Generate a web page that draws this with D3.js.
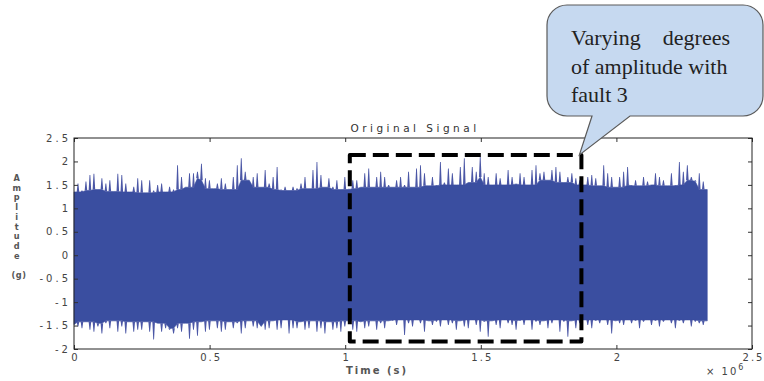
<!DOCTYPE html>
<html><head><meta charset="utf-8">
<script src="https://cdn.jsdelivr.net/npm/d3@7"></script>
<style>body{margin:0;background:#fff} svg{display:block}</style>
</head><body><svg id="c" width="764" height="381"></svg>
<script>
// ---- data ----
const signalLength = 2.335e6;          // last sample index (x axis, ×10^6)
// upper / lower envelope of the signal, 160 evenly spaced readings
const upper = [
1.35,1.53,1.38,1.57,1.71,1.74,1.40,1.64,1.53,1.60,
1.36,1.74,1.71,1.53,1.35,1.46,1.64,1.60,1.33,1.60,
1.38,1.50,1.53,1.35,1.46,1.40,1.92,1.67,1.45,1.75,
1.75,1.78,1.95,1.64,1.60,1.42,1.53,1.64,1.53,1.40,
1.67,1.92,2.07,1.78,1.60,1.67,1.75,1.45,1.82,1.53,
1.67,1.88,1.40,1.46,1.38,1.46,1.43,1.53,1.67,1.42,
1.82,1.99,1.71,1.45,1.64,1.46,1.60,1.40,1.67,1.42,
1.60,1.60,1.45,1.75,1.85,1.45,1.67,1.78,1.67,1.50,
1.45,1.60,1.67,1.50,1.78,1.45,1.85,1.92,1.75,1.48,
1.67,1.50,1.99,1.55,1.85,1.75,1.50,1.88,2.07,1.55,
1.88,1.78,2.10,1.75,1.67,1.50,1.75,1.64,1.50,1.82,
1.67,1.52,1.75,1.67,1.50,1.82,1.92,1.75,1.78,1.60,
1.82,1.88,1.78,1.55,1.67,1.75,1.64,1.60,1.50,1.67,
1.71,1.64,1.48,1.92,1.75,1.67,1.45,1.67,1.78,1.88,
1.50,1.60,1.48,1.67,1.57,1.50,1.75,1.67,1.60,1.48,
1.75,1.50,1.99,1.78,1.92,1.67,1.60,1.75,1.57,1.40];
const lower = [
-1.48,-1.52,-1.56,-1.42,-1.59,-1.63,-1.52,-1.67,-1.45,-1.56,
-1.40,-1.63,-1.52,-1.67,-1.42,-1.63,-1.59,-1.59,-1.42,-1.63,
-1.80,-1.45,-1.63,-1.56,-1.59,-1.67,-1.56,-1.63,-1.45,-1.78,
-1.59,-1.72,-1.42,-1.63,-1.59,-1.40,-1.56,-1.63,-1.59,-1.42,
-1.56,-1.45,-1.67,-1.56,-1.40,-1.52,-1.56,-1.52,-1.59,-1.56,
-1.40,-1.59,-1.56,-1.38,-1.67,-1.56,-1.56,-1.42,-1.59,-1.56,
-1.40,-1.63,-1.56,-1.67,-1.42,-1.59,-1.56,-1.63,-1.52,-1.40,
-1.59,-1.63,-1.42,-1.56,-1.52,-1.40,-1.59,-1.45,-1.56,-1.40,
-1.40,-1.49,-1.38,-1.70,-1.45,-1.52,-1.38,-1.45,-1.63,-1.40,
-1.49,-1.42,-1.52,-1.38,-1.49,-1.45,-1.59,-1.40,-1.52,-1.56,
-1.38,-1.49,-1.63,-1.42,-1.74,-1.40,-1.49,-1.56,-1.38,-1.45,
-1.49,-1.59,-1.40,-1.49,-1.38,-1.59,-1.42,-1.49,-1.40,-1.56,
-1.45,-1.38,-1.63,-1.42,-1.74,-1.40,-1.56,-1.45,-1.38,-1.49,
-1.56,-1.40,-1.45,-1.38,-1.49,-1.67,-1.40,-1.45,-1.49,-1.38,
-1.45,-1.40,-1.56,-1.42,-1.38,-1.49,-1.40,-1.52,-1.42,-1.38,
-1.45,-1.56,-1.40,-1.45,-1.38,-1.52,-1.42,-1.45,-1.49,-1.40];

const xDomain = [0, 2.5e6];
const yDomain = [-2, 2.5];
const xTicks = [0, 0.5e6, 1e6, 1.5e6, 2e6, 2.5e6];
const xTickLabels = ["0", "0.5", "1", "1.5", "2", "2.5"];
const yTicks = [-2, -1.5, -1, -0.5, 0, 0.5, 1, 1.5, 2, 2.5];
const yTickLabels = ["-2", "-1.5", "-1", "-0.5", "0", "0.5", "1", "1.5", "2", "2.5"];
const titleText = "Original Signal";
const xLabelText = "Time (s)";
const xExponentBase = "\u00d7 10";
const xExponent = "6";
const yLabelParts = ["A", "m", "p", "l", "i", "t", "u", "d", "e", "", "(g)"];
// dashed highlight region (data units)
const highlightX = [1.017e6, 1.871e6];
const highlightY = [-1.84, 2.14];
const calloutLines = [["Varying", "degrees"], ["of amplitude with"], ["fault 3"]];

// ---- drawing ----
const svg = d3.select("#c");
const M = {left: 74, right: 752, top: 138, bottom: 349};
const x = d3.scaleLinear().domain(xDomain).range([M.left, M.right]);
const y = d3.scaleLinear().domain(yDomain).range([M.bottom, M.top]);
const blue = "#3a4ea0";
const spikeCol = "#4b57a6";
const tickFont = "DejaVu Sans, sans-serif";
const LS = 3;

// signal: body (local envelope floor) + thin spikes to each reading
const n = upper.length;
const t = d3.range(n).map(i => i * signalLength / (n - 1));
const floorOf = (arr, i, pick) => pick(arr.slice(Math.max(0, i - 2), Math.min(n, i + 3)));
const upFloor = d3.range(n).map(i => floorOf(upper, i, d3.min));
const loFloor = d3.range(n).map(i => floorOf(lower, i, d3.max));
const body = d3.area()
  .x((d, i) => x(t[i]))
  .y0((d, i) => y(loFloor[i]))
  .y1((d, i) => y(upFloor[i]))
  .curve(d3.curveLinear);
svg.append("path").datum(upper).attr("d", body)
  .attr("fill", blue).attr("stroke", blue).attr("stroke-width", 0.6);
// narrow spike polygons from the floor to each reading
const spikePath = (arr, fl) => d3.range(n).map(i => {
  const xi = x(t[i]), w = 1.3;
  return `M${xi - w},${y(fl[i])}L${xi - 0.4},${y(arr[i])}L${xi + 0.4},${y(arr[i])}L${xi + w},${y(fl[i])}Z`;
}).join("");
svg.append("path").attr("d", spikePath(upper, upFloor)).attr("fill", spikeCol);
svg.append("path").attr("d", spikePath(lower, loFloor)).attr("fill", spikeCol);

// axes (inward ticks, MATLAB style)
function styleAxis(g, ls) {
  g.select(".domain").remove();
  g.selectAll(".tick line").attr("stroke", "#333");
  g.selectAll("text").attr("fill", "#444").attr("font-family", tickFont)
    .attr("font-size", 10).attr("letter-spacing", ls);
}
svg.append("g").attr("transform", `translate(0,${M.bottom})`)
  .call(d3.axisBottom(x).tickValues(xTicks).tickFormat((d, i) => xTickLabels[i])
    .tickSizeInner(-4).tickSizeOuter(0).tickPadding(5))
  .call(styleAxis, 2)
  .call(g => g.selectAll("text").attr("dx", 1));
svg.append("g").attr("transform", `translate(0,${M.top})`)
  .call(d3.axisTop(x).tickValues(xTicks).tickFormat("").tickSizeInner(-4).tickSizeOuter(0))
  .call(styleAxis, 0);
svg.append("g").attr("transform", `translate(${M.left},0)`)
  .call(d3.axisLeft(y).tickValues(yTicks).tickFormat((d, i) => yTickLabels[i])
    .tickSizeInner(-4).tickSizeOuter(0).tickPadding(5))
  .call(styleAxis, LS)
  .call(g => g.selectAll("text").attr("x", -6 + LS));
svg.append("g").attr("transform", `translate(${M.right},0)`)
  .call(d3.axisRight(y).tickValues(yTicks).tickFormat("").tickSizeInner(-4).tickSizeOuter(0))
  .call(styleAxis, 0);

// box
svg.append("rect").attr("x", M.left).attr("y", M.top)
  .attr("width", M.right - M.left).attr("height", M.bottom - M.top)
  .attr("fill", "none").attr("stroke", "#222").attr("stroke-width", 1);

// title
svg.append("text").attr("x", (M.left + M.right) / 2 + 2).attr("y", 132)
  .attr("text-anchor", "middle").attr("font-family", tickFont).attr("font-size", 10.5)
  .attr("letter-spacing", 3.5).attr("fill", "#333").text(titleText);

// x label
svg.append("text").attr("x", 377).attr("y", 374).attr("text-anchor", "middle")
  .attr("font-family", tickFont).attr("font-size", 10).attr("font-weight", "bold")
  .attr("letter-spacing", 2).attr("fill", "#555").text(xLabelText);
const ex = svg.append("text").attr("x", 706).attr("y", 375)
  .attr("font-family", tickFont).attr("font-size", 10).attr("letter-spacing", 2).attr("fill", "#444");
ex.append("tspan").text(xExponentBase);
ex.append("tspan").attr("dy", -5).attr("font-size", 8).text(xExponent);

// stacked y label
svg.append("g").selectAll("text").data(yLabelParts.filter(d => d !== "")).join("text")
  .attr("x", d => d.length > 1 ? 19 : 17)
  .attr("y", d => 181 + yLabelParts.indexOf(d) * 9.7)
  .attr("text-anchor", "middle").attr("font-family", tickFont).attr("font-size", 8.2)
  .attr("font-weight", "bold").attr("letter-spacing", 0.5).attr("fill", "#555")
  .text(d => d);

// dashed highlight box
const hx0 = x(highlightX[0]), hx1 = x(highlightX[1]);
const hy0 = y(highlightY[1]), hy1 = y(highlightY[0]);
svg.append("path")
  .attr("d", `M${hx0},${hy0}H${hx1}V${hy1}H${hx0}Z`)
  .attr("fill", "none").attr("stroke", "#000").attr("stroke-width", 4)
  .attr("stroke-dasharray", "16,7").attr("stroke-linejoin", "round");

// callout
const cx0 = 547, cx1 = 763, cy0 = 5, cy1 = 116, r = 20;
const tip = [hx1 - 2, hy0];
const pb1 = 592, pb2 = 630;
svg.append("path")
  .attr("d", `M${cx0 + r},${cy0}H${cx1 - r}A${r},${r} 0 0 1 ${cx1},${cy0 + r}V${cy1 - r}` +
    `A${r},${r} 0 0 1 ${cx1 - r},${cy1}H${pb2}L${tip[0]},${tip[1]}L${pb1},${cy1}H${cx0 + r}` +
    `A${r},${r} 0 0 1 ${cx0},${cy1 - r}V${cy0 + r}A${r},${r} 0 0 1 ${cx0 + r},${cy0}Z`)
  .attr("fill", "#c6d9f0").attr("stroke", "#5a5a5a").attr("stroke-width", 1.2);
const tf = "Liberation Serif, Times New Roman, serif";
const baselines = [45, 74, 102];
calloutLines.forEach((parts, i) => {
  svg.append("text").attr("x", 571).attr("y", baselines[i]).attr("font-family", tf)
    .attr("font-size", 22).attr("fill", "#222").text(parts[0]);
  if (parts.length > 1) {
    svg.append("text").attr("x", 730).attr("y", baselines[i]).attr("text-anchor", "end")
      .attr("font-family", tf).attr("font-size", 22).attr("fill", "#222").text(parts[1]);
  }
});
</script></body></html>
